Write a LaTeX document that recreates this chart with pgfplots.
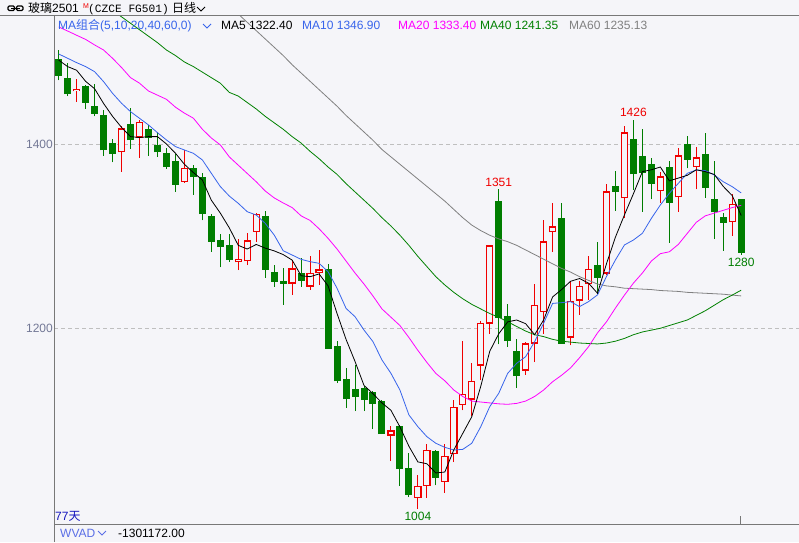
\documentclass[border=0pt]{standalone}
\usepackage{pgfplots}
\usepackage{pgfplotstable}
\pgfplotsset{compat=1.18}
\usepackage{fontspec}
\setmainfont{Liberation Sans}
\newfontfamily\cjk{Noto Sans CJK SC}
\newfontfamily\mono{Liberation Mono}
\newcommand\fs{\fontsize{12}{14}\selectfont}

\definecolor{bg}{RGB}{245,245,249}
\definecolor{cred}{RGB}{240,0,0}
\definecolor{cgreen}{RGB}{0,125,0}
\definecolor{mablue}{RGB}{55,100,235}
\definecolor{mapink}{RGB}{255,0,255}
\definecolor{magreen}{RGB}{0,128,0}
\definecolor{magrey}{RGB}{128,128,128}
\definecolor{tickc}{RGB}{115,120,150}
\definecolor{linec}{RGB}{120,120,120}
\definecolor{navy}{RGB}{20,20,190}
\definecolor{wvad}{RGB}{90,110,230}

% up candles (close >= open)
\pgfplotstableread{
i o h l c
2 1457 1470 1446 1460
7 1391 1420 1370 1417
9 1407 1426 1385 1424
14 1359 1393 1358 1374
20 1271.4 1296.4 1263 1275
21 1272.5 1303.7 1268.5 1295.3
22 1304.7 1325.4 1293.9 1323.9
26 1248.6 1274 1236.3 1264.9
28 1245.3 1278.3 1241.7 1260.5
29 1260.5 1284.8 1246.8 1263.8
37 1083.4 1093.5 1055.8 1089.2
40 1016 1041 1004 1029
41 1029 1074 1016 1068
43 1033.3 1074.6 1021.4 1061.6
44 1063.8 1121.7 1054.7 1114.5
45 1117 1185.9 1110.9 1129
46 1122.5 1162 1104.4 1143.1
47 1159.4 1208 1143.5 1206.2
48 1205.1 1289.9 1194.2 1289.9
52 1154 1184.8 1149.6 1183.7
53 1183.3 1247.8 1163.4 1225.7
54 1217.8 1317.4 1194.2 1294.2
55 1304 1336.2 1283 1310.5
57 1189.8 1251.4 1181.5 1230
58 1230 1251.4 1214.5 1246.4
59 1247.8 1278.3 1231.2 1264.8
61 1259.4 1356.2 1257.6 1348.6
63 1341 1420 1320 1412.7
67 1348.6 1370 1336.2 1364.9
69 1342 1395.3 1326.5 1387.7
71 1374.6 1396.4 1350.7 1385.5
75 1314.9 1345.7 1300.4 1335.2
}\datared

% down candles (close < open)
\pgfplotstableread{
i o h l c
0 1492 1502 1469 1474
1 1472 1488 1452 1454
3 1463 1464 1438 1445
4 1441 1465 1430 1433
5 1431 1437 1387 1393
6 1401 1405 1380 1389
8 1422 1439 1395 1404
10 1416 1421 1387 1407
11 1399 1413 1386 1391
12 1390 1396 1373 1375
13 1381 1389 1348 1356
15 1374 1377 1345 1364
16 1364 1368 1317 1324
17 1322 1324 1283 1294
18 1296 1302 1266 1288
19 1290 1302 1272 1274
23 1321.8 1327 1254.7 1263.4
24 1260.9 1268.5 1245 1250.4
25 1251.1 1265.3 1225.4 1248.6
27 1259.5 1275.8 1245 1251.5
30 1263.8 1269.6 1177.6 1177.6
31 1180.5 1185.9 1140.6 1142.4
32 1144.6 1157.3 1113.5 1123.2
33 1133.7 1159.8 1110.2 1125.4
34 1134.8 1137.4 1110.2 1122.1
35 1130.5 1131.6 1090.6 1117.8
36 1121.1 1122.5 1085.2 1085.2
38 1093.5 1094.6 1028.7 1047.1
39 1048.2 1064.5 1016.7 1019.6
42 1066.3 1067.4 1029.4 1037.7
49 1338 1351 1182.6 1211.2
50 1213 1226.1 1179.7 1186.2
51 1175 1188 1135.2 1148.2
56 1319.6 1336.2 1183 1183
60 1268.5 1293.5 1237 1255.1
62 1354.4 1370.7 1327.5 1348.2
64 1405.4 1426 1350 1367
65 1387 1416 1326.5 1368.8
66 1378.3 1384.4 1339.9 1356.9
68 1375 1381.5 1292.8 1336.2
70 1400 1408.7 1373.6 1383
72 1389.1 1411.6 1341.7 1352.5
73 1340.2 1381.9 1296.8 1325.7
74 1320.7 1324.6 1284.1 1314.5
76 1340.2 1340.2 1280 1281.9
}\datagreen

% moving averages
\pgfplotstableread{
i m5 m10 m20 m40 m60
0 1491 1497.7 1527 nan nan
1 1484 1493 1522.6 nan nan
2 1480 1488.3 1518 nan nan
3 1468 1484 1513.5 nan nan
4 1460 1478.5 1507.5 nan nan
5 1444 1467.7 1502 nan nan
6 1430 1455 1493 1545 nan
7 1418 1444.2 1483 1538 nan
8 1408 1435.1 1472 1531 nan
9 1407 1427.9 1466 1524 nan
10 1408 1420.7 1457.5 1517 nan
11 1408 1412.3 1453 1510 nan
12 1400 1404.4 1448.5 1502 nan
13 1390 1397.2 1440 1496 nan
14 1378 1393.5 1433.5 1489 nan
15 1369 1389.9 1428 1484 nan
16 1361 1382.7 1416 1478 nan
17 1339 1368.2 1406.5 1472 nan
18 1325 1353.8 1399 1466 nan
19 1309 1343.5 1386 1456 nan
20 1290 1335.6 1377 1452 1541
21 1286 1326.5 1368 1445 1532
22 1291 1322.9 1359 1438 1523
23 1287 1313.9 1349 1430 1514
24 1284 1301.2 1341.5 1423 1505
25 1280 1284.2 1336 1416 1496
26 1274 1279.5 1331 1408 1486
27 1257 1274.8 1322 1401 1477
28 1256 1272.3 1317 1392 1468
29 1259 1270.5 1308 1384 1459
30 1246 1261.4 1297.6 1375 1450
31 1216 1243.4 1286 1367 1441
32 1188 1221.6 1273 1357 1431
33 1164 1212.6 1260 1348 1422
34 1138 1198.1 1248 1339 1413
35 1129 1185.5 1235 1330 1404
36 1119 1165.6 1221 1320 1394
37 1111 1151.1 1212 1311 1386
38 1093 1133 1203 1301 1378
39 1072 1106 1190 1290 1370
40 1055 1093.2 1176 1278 1362
41 1053 1082.4 1163 1267 1354
42 1043 1075.2 1151 1256 1346
43 1044 1070.8 1143 1247 1338
44 1068 1067.9 1133 1239 1329
45 1086 1068.6 1126 1232 1320
46 1104 1075.2 1121 1226 1312
47 1137 1093.2 1120 1221 1306
48 1175 1114.9 1119 1216 1301
49 1194 1129.4 1118 1212 1297
50 1207 1151.1 1117.5 1207 1294
51 1209 1162 1118.5 1202 1290
52 1205 1169.2 1121 1197 1285
53 1193 1185.5 1126 1193 1280
54 1209 1205.4 1133 1191 1275
55 1234 1227 1142 1188 1270
56 1242 1227.8 1149 1186 1265
57 1251 1228.9 1157 1185 1261
58 1254 1223.5 1168 1184 1256
59 1249 1228.9 1180 1183.5 1252
60 1238 1236.2 1195 1183 1248
61 1270 1256.1 1207 1184 1246
62 1299 1274.2 1222 1186 1245
63 1323 1290.4 1236 1189 1243.5
64 1346 1295.8 1249 1193 1243
65 1370 1303.1 1260 1196 1242.5
66 1372 1319.3 1273 1198 1242
67 1375 1333.8 1281 1200 1241
68 1360 1346.5 1283 1203 1240.5
69 1363 1357.3 1291 1206 1240
70 1366 1368.2 1303 1209 1239
71 1372 1371.8 1315 1214 1238.5
72 1370 1371.1 1322 1219 1238
73 1367 1366.4 1325 1225 1237.5
74 1354 1359.1 1328 1231 1237
75 1344 1353.7 1331 1236 1236
76 1322.4 1346.9 1333.4 1241.35 1235.13
}\datama

% one vertical bar per row, drawn as an error bar with no marks
\pgfplotsset{candlebar/.style 2 args={draw=none, mark=none,
  error bars/.cd, y dir=plus, y explicit, error mark=none,
  error bar style={draw=#1, line width=#2, solid}}}

\begin{document}
\begin{tikzpicture}[x=1pt,y=1pt]
\useasboundingbox (0,0) rectangle (799,542);
\fill[bg] (0,0) rectangle (799,542);
\begin{axis}[
  at={(54pt,18pt)}, anchor=south west,
  scale only axis, width=745pt, height=508pt,
  xmin=-0.52, xmax=82.44, ymin=987.6, ymax=1538.9,
  axis x line*=bottom, axis y line*=left,
  axis line style={draw=linec, line width=1pt, -},
  ytick={1200,1400}, yticklabels={1200,1400},
  xtick={75.9}, xticklabels={},
  ymajorgrids,
  grid style={dash pattern=on 4pt off 3pt, draw=black!25, line width=0.8pt},
  y tick style={draw=none},
  x tick style={draw=linec, line width=0.8pt},
  tick align=inside, major tick length=8pt,
  yticklabel style={font=\fs, text=tickc, inner sep=1pt},
  clip mode=individual,
]
% wicks
\addplot[candlebar={cgreen}{1pt}]
  table[x=i, y=l, y error expr={\thisrow{h}-\thisrow{l}}] {\datagreen};
\addplot[candlebar={cred}{1pt}]
  table[x=i, y=l, y error expr={\thisrow{h}-\thisrow{l}}] {\datared};
% bodies
\addplot[candlebar={cgreen}{7pt}]
  table[x=i, y=c, y error expr={max(\thisrow{o}-\thisrow{c},1)}] {\datagreen};
\addplot[candlebar={cred}{7.4pt}]
  table[x=i, y=o, y error expr={max(\thisrow{c}-\thisrow{o},1)}] {\datared};
\addplot[candlebar={bg}{4.8pt}]
  table[x=i, y expr={\thisrow{o}+1.35}, y error expr={max(\thisrow{c}-\thisrow{o}-2.7,0)}] {\datared};
% moving averages
\addplot[magrey, line width=0.8pt, unbounded coords=jump] table[x=i, y=m60] {\datama};
\addplot[magreen, line width=0.8pt, unbounded coords=jump] table[x=i, y=m40] {\datama};
\addplot[mapink, line width=0.8pt] table[x=i, y=m20] {\datama};
\addplot[mablue, line width=0.8pt] table[x=i, y=m10] {\datama};
\addplot[black, line width=0.8pt] table[x=i, y=m5] {\datama};
% high / low marks
\node[anchor=south, inner sep=0pt, yshift=3pt, text=cred, font=\fs] at (axis cs:49,1350.7) {1351};
\node[anchor=south, inner sep=0pt, yshift=3pt, text=cred, font=\fs] at (axis cs:64,1426) {1426};
\node[anchor=north, inner sep=0pt, yshift=-3pt, text=cgreen, font=\fs] at (axis cs:40,1004) {1004};
\node[anchor=north, inner sep=0pt, yshift=-3pt, text=cgreen, font=\fs] at (axis cs:76,1280) {1280};
\end{axis}
% frame pieces
\draw[linec, line width=1pt] (0,526) -- (799,526);
\draw[linec, line width=1pt] (54,0) -- (54,18);
% title bar
\draw[black, line width=1.2pt, rounded corners=1.2pt] (8,531.5) rectangle (14.5,536);
\draw[black, line width=1.2pt, rounded corners=1.2pt] (16.5,531.5) rectangle (23,536);
\draw[black, line width=1.2pt] (11,533.75) -- (20,533.75);
\node[anchor=base west, inner sep=0pt, font=\fs] at (28,529) {{\cjk 玻璃}2501};
\node[anchor=base west, inner sep=0pt, text=cred, font=\fontsize{7}{8}\selectfont] at (83,533) {M};
\node[anchor=base west, inner sep=0pt, font=\mono\fontsize{11.2}{13}\selectfont] at (88,529) {(CZCE FG501)};
\node[anchor=base west, inner sep=0pt, font=\cjk\fs] at (172,529) {日线};
\draw[black, line width=1pt] (197,535) -- (201,531) -- (205,535);
% MA legend line
\node[anchor=base west, inner sep=0pt, text=mablue, font=\fs] at (58,512) {MA{\cjk 组合}(5,10,20,40,60,0)};
\draw[mablue, line width=1pt] (203,518) -- (207,514) -- (211,518);
\node[anchor=base west, inner sep=0pt, text=black, font=\fs] at (221,512) {MA5 1322.40};
\node[anchor=base west, inner sep=0pt, text=mablue, font=\fs] at (302,512) {MA10 1346.90};
\node[anchor=base west, inner sep=0pt, text=mapink, font=\fs] at (398,512) {MA20 1333.40};
\node[anchor=base west, inner sep=0pt, text=magreen, font=\fs] at (480,512) {MA40 1241.35};
\node[anchor=base west, inner sep=0pt, text=magrey, font=\fs] at (569,512) {MA60 1235.13};
% bottom texts
\node[anchor=base west, inner sep=0pt, text=navy, font=\fs] at (55,22) {77{\cjk 天}};
\node[anchor=base west, inner sep=0pt, text=wvad, font=\fs] at (60,4.5) {WVAD};
\draw[wvad, line width=1pt] (98,11) -- (102,7) -- (106,11);
\node[anchor=base west, inner sep=0pt, text=black, font=\fs] at (118,4.5) {-1301172.00};
\end{tikzpicture}
\end{document}
